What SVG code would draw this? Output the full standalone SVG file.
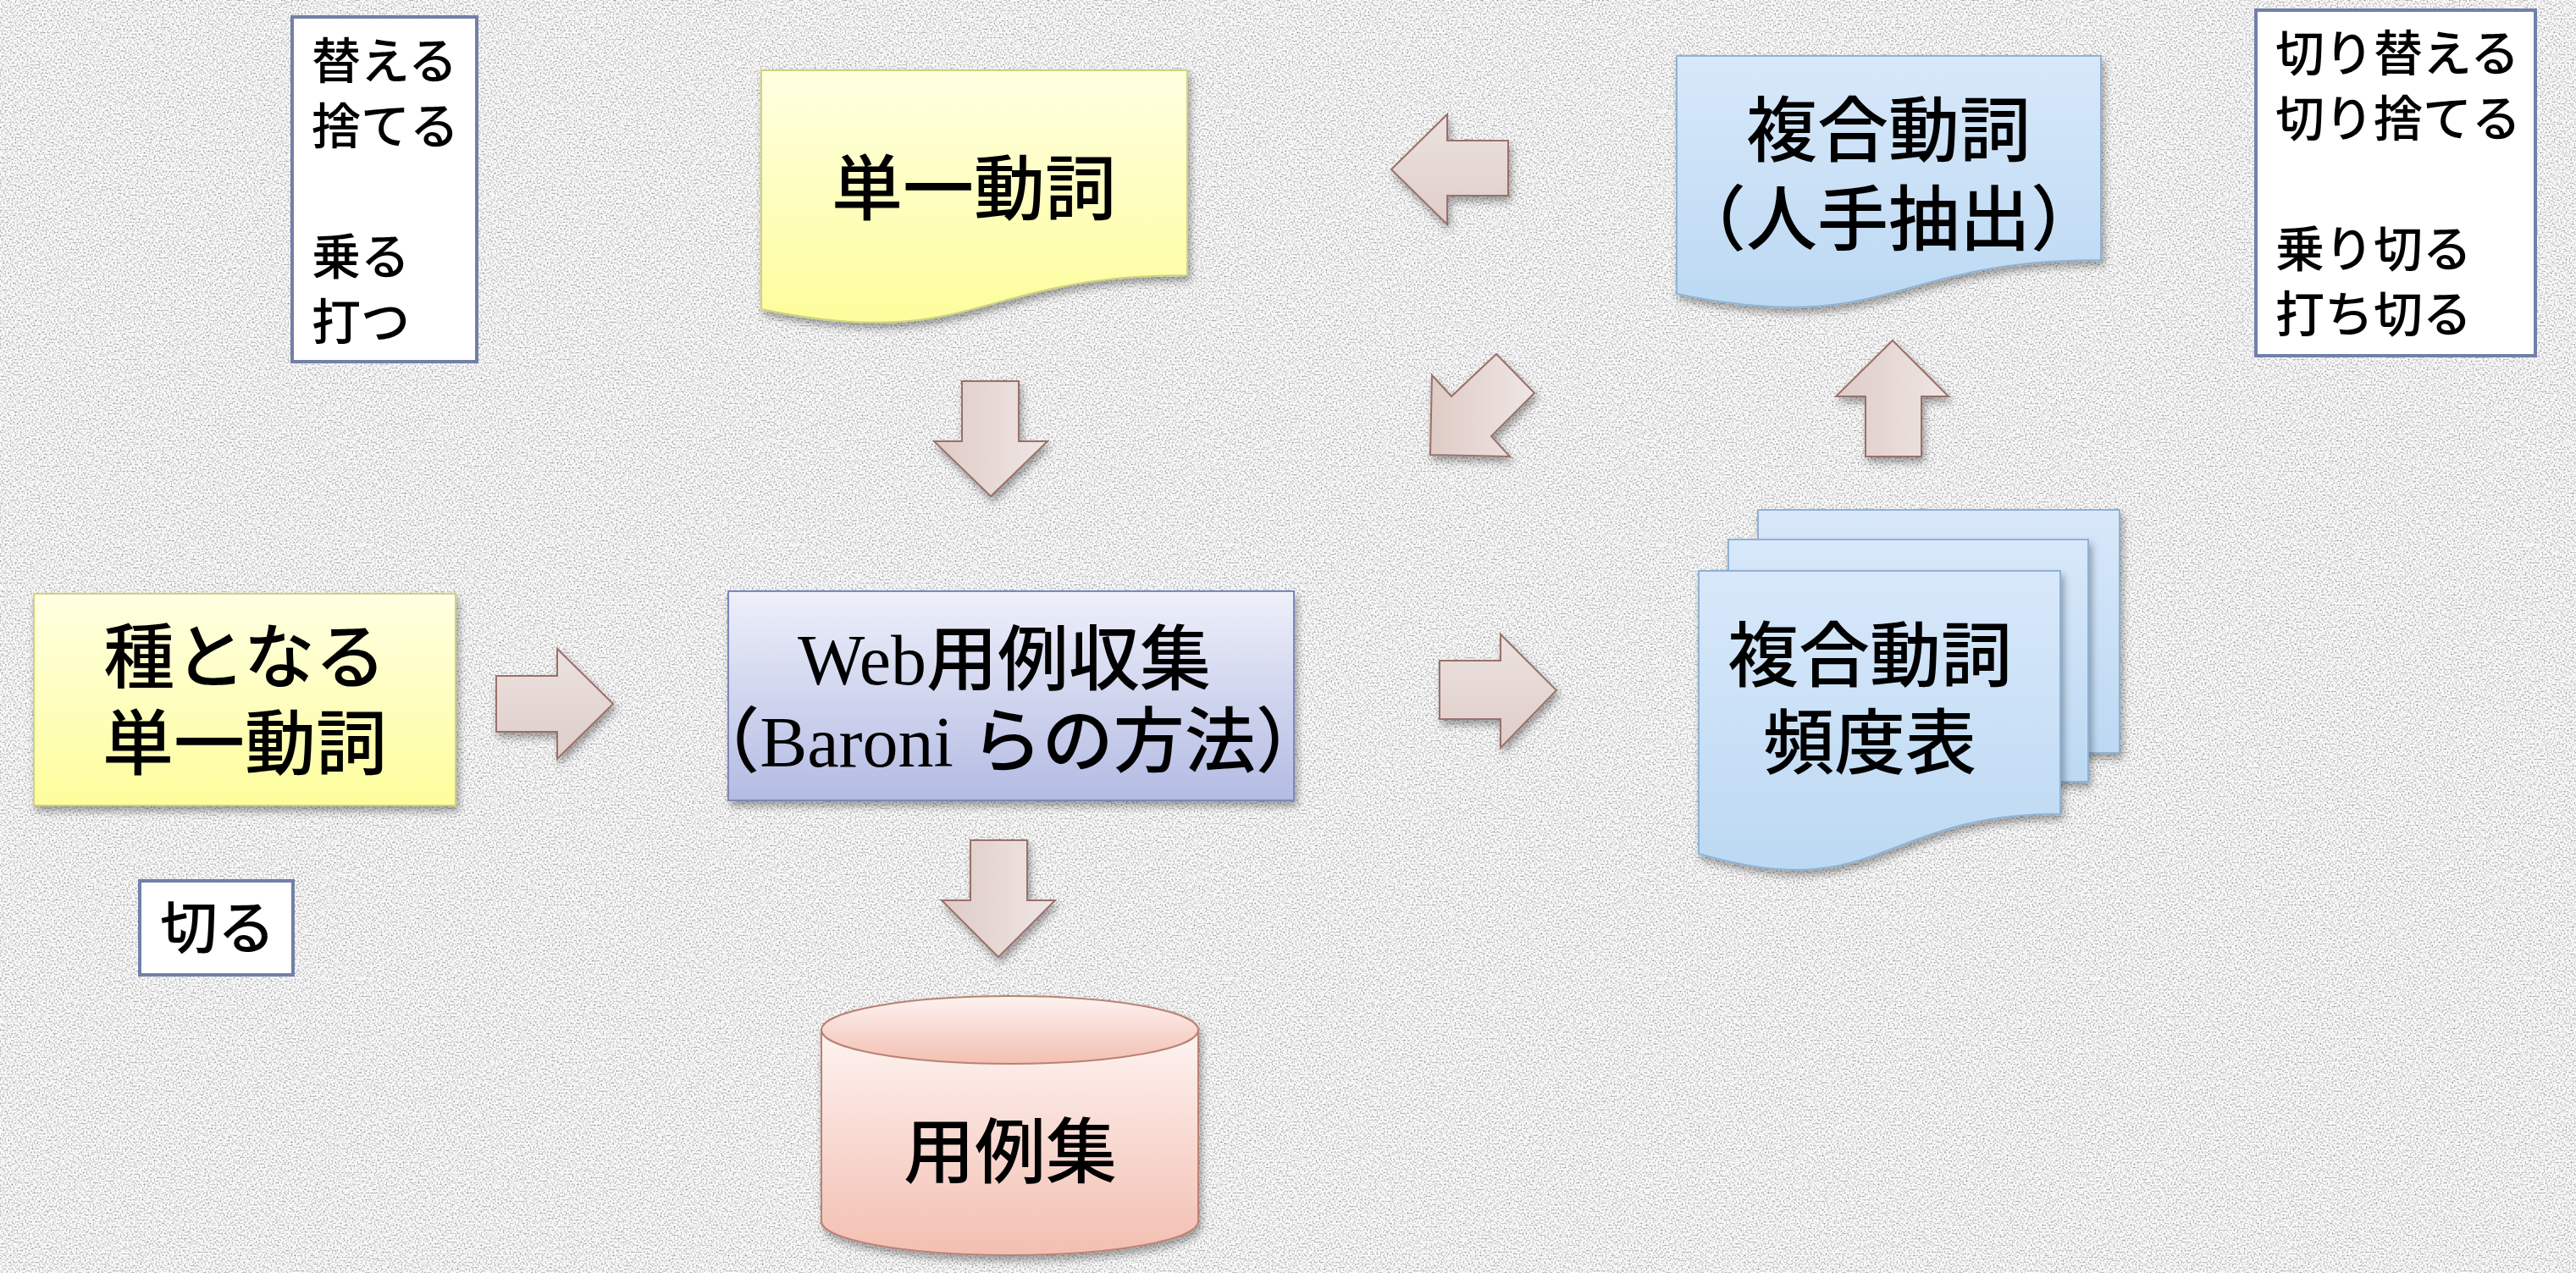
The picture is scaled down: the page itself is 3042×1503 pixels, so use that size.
<svg xmlns="http://www.w3.org/2000/svg" width="3042" height="1503" viewBox="0 0 3042 1503">
<defs>
  <filter id="grain" x="0" y="0" width="100%" height="100%" color-interpolation-filters="sRGB">
    <feTurbulence type="fractalNoise" baseFrequency="0.5" numOctaves="3" seed="7" result="n"/>
    <feColorMatrix in="n" type="matrix" values="0.9 0 0 0 0.475  0.9 0 0 0 0.475  0.9 0 0 0 0.475  0 0 0 0 1"/>
  </filter>
  <filter id="shadow" x="-10%" y="-10%" width="125%" height="130%">
    <feDropShadow dx="3" dy="6" stdDeviation="5" flood-color="#000" flood-opacity="0.35"/>
  </filter>
  <linearGradient id="gYellow" x1="0" y1="0" x2="0" y2="1">
    <stop offset="0" stop-color="#ffffe2"/>
    <stop offset="1" stop-color="#fdfd9c"/>
  </linearGradient>
  <linearGradient id="gBlue" x1="0" y1="0" x2="0" y2="1">
    <stop offset="0" stop-color="#d8e8fa"/>
    <stop offset="1" stop-color="#bcd9f3"/>
  </linearGradient>
  <linearGradient id="gPurple" x1="0" y1="0" x2="0" y2="1">
    <stop offset="0" stop-color="#eef0fa"/>
    <stop offset="1" stop-color="#b4bbe3"/>
  </linearGradient>
  <linearGradient id="gPink" x1="0" y1="0" x2="0" y2="1">
    <stop offset="0" stop-color="#fdf3f1"/>
    <stop offset="1" stop-color="#f3bfb1"/>
  </linearGradient>
  <linearGradient id="gArrow" x1="0" y1="0" x2="1" y2="0">
    <stop offset="0" stop-color="#dfcbc6"/>
    <stop offset="1" stop-color="#efe6e4"/>
  </linearGradient>
  <linearGradient id="gArrowV" x1="0" y1="0" x2="0" y2="1">
    <stop offset="0" stop-color="#ece2df"/>
    <stop offset="1" stop-color="#dfcdc9"/>
  </linearGradient>
  <style>
    .txt { font-family: 'Noto Sans CJK JP', 'Noto Sans', sans-serif; font-weight: 500; fill: #000; }
    .big { font-size: 84px; text-anchor: middle; }
    .small { font-size: 58px; }
    .serif { font-family: 'Liberation Serif', 'Noto Sans CJK JP', serif; }
    .tbox { fill: #ffffff; stroke: #7280a8; stroke-width: 4; }
    .yellow { fill: url(#gYellow); stroke: #cdd47a; stroke-width: 2; filter: url(#shadow); }
    .blue { fill: url(#gBlue); stroke: #8fb2d4; stroke-width: 2; filter: url(#shadow); }
    .purple { fill: url(#gPurple); stroke: #7b87ba; stroke-width: 2; filter: url(#shadow); }
    .pink { fill: url(#gPink); stroke: #b98275; stroke-width: 2; }
    .arrow { fill: url(#gArrow); stroke: #9a706a; stroke-width: 2; filter: url(#shadow); }
    .arrowV { fill: url(#gArrowV); stroke: #9a706a; stroke-width: 2; filter: url(#shadow); }
  </style>
</defs>

<!-- background -->
<rect x="0" y="0" width="3042" height="1503" fill="#e6e6e6"/>
<rect x="0" y="0" width="3042" height="1503" filter="url(#grain)"/>

<!-- text box: single verbs -->
<g id="box-single-examples">
  <rect class="tbox" x="345" y="20" width="218" height="407"/>
  <text class="txt small" x="368" y="93">替える</text>
  <text class="txt small" x="368" y="170">捨てる</text>
  <text class="txt small" x="368" y="324">乗る</text>
  <text class="txt small" x="368" y="401">打つ</text>
</g>

<!-- text box: compound verbs -->
<g id="box-compound-examples">
  <rect class="tbox" x="2664" y="12" width="330" height="408"/>
  <text class="txt small" x="2687" y="84">切り替える</text>
  <text class="txt small" x="2687" y="161">切り捨てる</text>
  <text class="txt small" x="2687" y="315">乗り切る</text>
  <text class="txt small" x="2687" y="392">打ち切る</text>
</g>

<!-- text box: seed -->
<g id="box-seed-example">
  <rect class="tbox" x="165" y="1040" width="181" height="111"/>
  <text class="txt" x="189" y="1120" font-size="68">切る</text>
</g>

<!-- seed single verb -->
<g id="node-seed">
  <rect class="yellow" x="40" y="701" width="498" height="250"/>
  <text class="txt big" x="289" y="806">種となる</text>
  <text class="txt big" x="289" y="908">単一動詞</text>
</g>

<!-- single verb document -->
<g id="node-single">
  <path class="yellow" d="M899,83 H1402 V325 C1150.5,325 1150.5,417 899,365 Z"/>
  <text class="txt big" x="1150" y="253">単一動詞</text>
</g>

<!-- compound verbs (manual) document -->
<g id="node-compound-manual">
  <path class="blue" d="M1980,66 H2481 V307 C2230.5,307 2230.5,399 1980,347 Z"/>
  <text class="txt big" x="2230" y="184">複合動詞</text>
  <text class="txt big" x="2230" y="289">（人手抽出）</text>
</g>

<!-- web collection -->
<g id="node-web">
  <rect class="purple" x="860" y="698" width="668" height="247"/>
  <text class="txt big serif" x="1186" y="808">Web用例収集</text>
  <text class="txt big serif" x="1190" y="905">（Baroni らの方法）</text>
</g>

<!-- frequency table multi-document -->
<g id="node-freq">
  <rect class="blue" x="2076" y="602" width="427" height="287"/>
  <rect class="blue" x="2041" y="637" width="425" height="286"/>
  <path class="blue" d="M2006,674 H2433 V961 C2219.5,961 2219.5,1070 2006,1008 Z"/>
  <text class="txt big" x="2208" y="804">複合動詞</text>
  <text class="txt big" x="2208" y="907">頻度表</text>
</g>

<!-- example corpus cylinder -->
<g id="node-corpus">
  <g filter="url(#shadow)">
    <path class="pink" d="M970,1216 V1442 A222.5,40 0 0 0 1415,1442 V1216"/>
    <ellipse class="pink" cx="1192.5" cy="1216" rx="222.5" ry="40"/>
  </g>
  <text class="txt big" x="1193" y="1390">用例集</text>
</g>

<!-- connectors (block arrows) -->
<g id="connectors">
  <polygon class="arrowV" points="586,798 658,798 658,766 724,831 658,896 658,864 586,864"/>
  <polygon class="arrow" points="1136,450 1203,450 1203,521 1237,521 1170,586 1103,521 1136,521"/>
  <polygon class="arrow" points="1146,992 1213,992 1213,1063 1246,1063 1179,1130 1112,1063 1146,1063"/>
  <polygon class="arrowV" points="1700,780 1772,780 1772,749 1838,815 1772,883 1772,849 1700,849"/>
  <polygon class="arrowV" points="1781,166 1709,166 1709,135 1643,200 1709,265 1709,231 1781,231"/>
  <polygon class="arrow" points="1691,443 1714,468 1767,418 1812,464 1761,515 1783,539 1689,537"/>
  <polygon class="arrow" points="2235,402 2301,468 2269,468 2269,539 2203,539 2203,468 2168,468"/>
</g>
</svg>
